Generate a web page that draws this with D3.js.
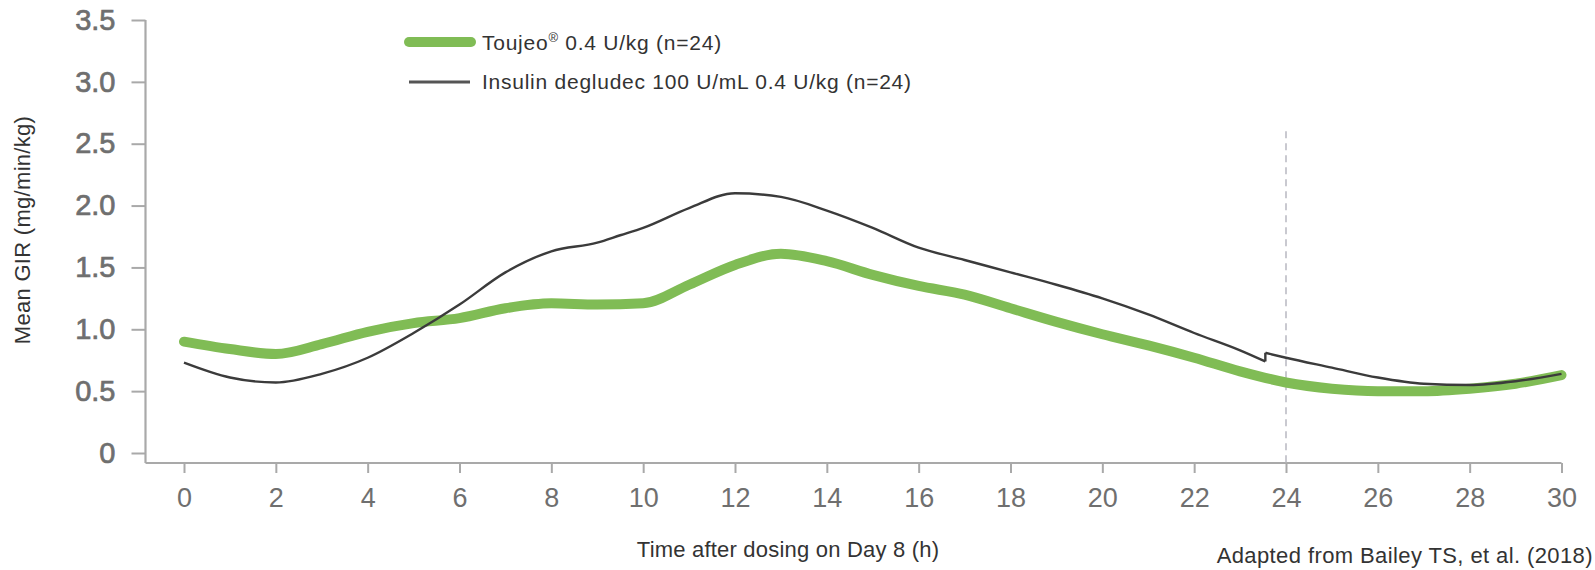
<!DOCTYPE html>
<meta charset="utf-8">
<html>
<head>
  <title>Mean GIR</title>
  <script src="https://d3js.org/d3.v7.min.js"></script>
  <style>
    body { margin: 0; background: #fff; }
    svg text { font-family: "Liberation Sans", Arial, sans-serif; }
  </style>
</head>
<body>
<div id="chart"></div>
<script>
// data
var hours = d3.range(0, 31);
var toujeo = [0.90, 0.84, 0.80, 0.88, 0.98, 1.05, 1.09, 1.17, 1.21, 1.20, 1.21, 1.36, 1.52, 1.61, 1.55,
              1.44, 1.35, 1.28, 1.17, 1.06, 0.96, 0.87, 0.77, 0.66, 0.57, 0.52, 0.50, 0.50, 0.52, 0.56, 0.63];

// degludec has a small jump just before 24 h, so it is two pieces
var deglHoursA = [0, 1, 2, 3, 4, 5, 6, 7, 8, 9, 9.5, 10, 11, 12, 13, 14, 15, 16, 17, 18, 19, 20, 21, 22, 23, 23.55];
var deglA = [0.73, 0.61, 0.57, 0.64, 0.77, 0.97, 1.20, 1.46, 1.63, 1.70, 1.76, 1.82, 1.98, 2.10, 2.07, 1.96,
             1.82, 1.66, 1.56, 1.46, 1.36, 1.25, 1.12, 0.97, 0.83, 0.74];
var deglHoursB = [23.55, 24, 25, 26, 27, 28, 29, 30];
var deglB = [0.81, 0.77, 0.69, 0.61, 0.56, 0.55, 0.58, 0.64];

var xTicks = d3.range(0, 31, 2);
var yTicks = [0, 0.5, 1, 1.5, 2, 2.5, 3, 3.5];
var refHour = 24, refTop = 2.6;

var legendNames = ["Toujeo", "Insulin degludec 100 U/mL 0.4 U/kg (n=24)"];
var legendRest = [" 0.4 U/kg (n=24)", ""];

var W = 1595, H = 570;
var svg = d3.select("#chart").append("svg")
  .attr("width", W).attr("height", H);

var x = d3.scaleLinear().domain([0, 30]).range([184, 1561.5]);
var y = d3.scaleLinear().domain([0, 3.5]).range([453, 20]);
var axisY = y(0) + 10;    // x axis sits a little below zero
var axisX = 145.5;
var axisColor = "#a9a9a9";
var green = "#80bc55", dark = "#3b3b3b";

// y axis
var gy = svg.append("g")
  .attr("transform", "translate(" + axisX + ",0)")
  .call(d3.axisLeft(y).tickValues(yTicks).tickSize(14).tickPadding(16)
    .tickFormat(function(d) { return d === 0 ? "0" : d.toFixed(1); }));
gy.select(".domain").remove();
gy.selectAll("line").attr("stroke", axisColor).attr("stroke-width", 2);
gy.selectAll("text")
  .style("font-size", "29px")
  .attr("fill", "#6f6f6f")
  .attr("stroke", "#6f6f6f").attr("stroke-width", 0.7);
svg.append("line")
  .attr("x1", axisX).attr("x2", axisX)
  .attr("y1", y(3.5)).attr("y2", axisY)
  .attr("stroke", axisColor).attr("stroke-width", 2.2);

// x axis
var gx = svg.append("g")
  .attr("transform", "translate(0," + axisY + ")")
  .call(d3.axisBottom(x).tickValues(xTicks).tickSize(10).tickPadding(15));
gx.select(".domain").remove();
gx.selectAll("line").attr("stroke", axisColor).attr("stroke-width", 2);
gx.selectAll("text")
  .style("font-size", "27px")
  .attr("fill", "#6f6f6f");
svg.append("line")
  .attr("x1", axisX).attr("x2", x(30))
  .attr("y1", axisY).attr("y2", axisY)
  .attr("stroke", axisColor).attr("stroke-width", 2.2);

// dashed reference line at 24 h
svg.append("line")
  .attr("x1", x(refHour)).attr("x2", x(refHour))
  .attr("y1", y(refTop)).attr("y2", axisY)
  .attr("stroke", "#c9c9d0").attr("stroke-width", 2)
  .attr("stroke-dasharray", "7,5");

// lines
var line = d3.line()
  .x(function(d) { return x(d[0]); })
  .y(function(d) { return y(d[1]); })
  .curve(d3.curveMonotoneX);

svg.append("path")
  .datum(d3.zip(hours, toujeo))
  .attr("d", line)
  .attr("fill", "none")
  .attr("stroke", green)
  .attr("stroke-width", 10)
  .attr("stroke-linecap", "round")
  .attr("stroke-linejoin", "round");

[d3.zip(deglHoursA, deglA), d3.zip(deglHoursB, deglB)].forEach(function(seg) {
  svg.append("path")
    .datum(seg)
    .attr("d", line)
    .attr("fill", "none")
    .attr("stroke", dark)
    .attr("stroke-width", 2.4);
});
// join the jump
svg.append("line")
  .attr("x1", x(deglHoursA[deglHoursA.length - 1])).attr("x2", x(deglHoursB[0]))
  .attr("y1", y(deglA[deglA.length - 1])).attr("y2", y(deglB[0]))
  .attr("stroke", dark).attr("stroke-width", 2.4);

// legend
var legend = svg.append("g");
legend.append("line")
  .attr("x1", 409).attr("x2", 471).attr("y1", 42).attr("y2", 42)
  .attr("stroke", green).attr("stroke-width", 10).attr("stroke-linecap", "round");
legend.append("line")
  .attr("x1", 409).attr("x2", 470).attr("y1", 82).attr("y2", 82)
  .attr("stroke", "#555").attr("stroke-width", 3);
var lt = legend.selectAll("text.lab")
  .data(legendNames)
  .enter().append("text")
  .attr("class", "lab")
  .attr("x", 482)
  .attr("y", function(d, i) { return 50 + i * 39; })
  .style("font-size", "21px")
  .style("letter-spacing", "0.75px")
  .attr("fill", "#333");
lt.append("tspan").text(function(d) { return d; });
lt.filter(function(d, i) { return i === 0; })
  .append("tspan")
  .attr("dy", -8)
  .style("font-size", "13px")
  .text("\u00AE");
lt.filter(function(d, i) { return i === 0; })
  .append("tspan")
  .attr("dy", 8)
  .text(legendRest[0]);

// axis titles
svg.append("text")
  .attr("transform", "translate(30,230) rotate(-90)")
  .attr("text-anchor", "middle")
  .style("font-size", "22px")
  .style("letter-spacing", "0.3px")
  .attr("fill", "#333")
  .text("Mean GIR (mg/min/kg)");

svg.append("text")
  .attr("x", 788).attr("y", 557)
  .attr("text-anchor", "middle")
  .style("font-size", "22px")
  .style("letter-spacing", "0.2px")
  .attr("fill", "#333")
  .text("Time after dosing on Day 8 (h)");

svg.append("text")
  .attr("x", 1593).attr("y", 563)
  .attr("text-anchor", "end")
  .style("font-size", "22px")
  .style("letter-spacing", "0.4px")
  .attr("fill", "#333")
  .text("Adapted from Bailey TS, et al. (2018)");
</script>
</body>
</html>
